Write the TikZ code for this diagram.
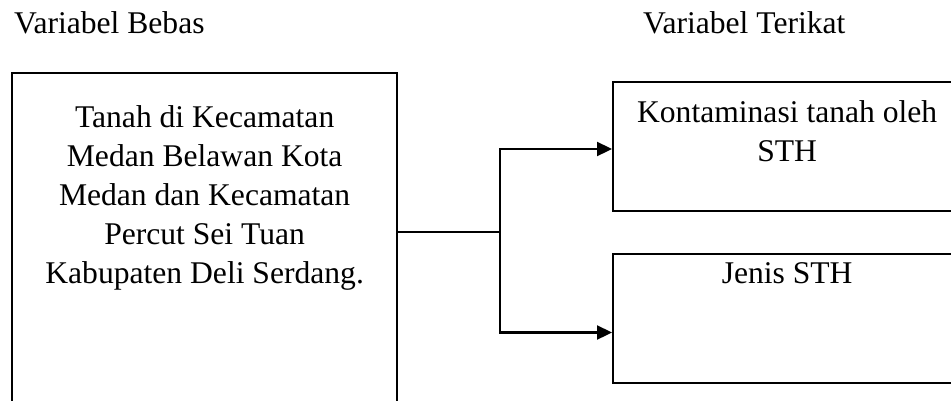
\documentclass[tikz,border=0pt]{standalone}
\usepackage{fontspec}
\setmainfont{Liberation Serif}
\usetikzlibrary{positioning,arrows.meta}

\begin{document}
\begin{tikzpicture}[x=1pt,y=-1pt,
  box/.style={draw, line width=2.3pt, rectangle, inner sep=0pt},
  txt/.style={align=center, inner sep=0pt, font=\fontsize{31.6pt}{39pt}\selectfont},
  arr/.style={-{Triangle[length=15pt,width=14pt]}, line width=2.3pt}]
\path[use as bounding box, clip] (0,0) rectangle (951,400);

\node[txt, anchor=base west] (bebaslabel) at (14,33) {Variabel Bebas};
\node[txt, anchor=base west] (terikatlabel) at (643,33) {Variabel Terikat};

\node[box, minimum width=385pt, minimum height=340pt, anchor=north west] (bebas) at (11,71.7) {};
\node[box, minimum width=348pt, minimum height=129.3pt, anchor=north west] (kontam) at (612,80.7) {};
\node[box, minimum width=348pt, minimum height=129.3pt, anchor=north west] (jenis) at (612,252.5) {};

\node[txt, below=33.3pt of bebas.north] (bebastext) {Tanah di Kecamatan\\Medan Belawan Kota\\Medan dan Kecamatan\\Percut Sei Tuan\\Kabupaten Deli Serdang.};
\node[txt, below=19.4pt of kontam.north] (kontamtext) {Kontaminasi tanah oleh\\STH};
\node[txt, below=9.5pt of jenis.north] (jenistext) {Jenis STH};

\coordinate (split) at (500,232);
\coordinate (ktop) at (500,149);
\coordinate (kbot) at (500,332.5);

\draw[line width=2.3pt] (bebas.east |- split) -- (split);
\draw[arr] (split) -- (ktop) -- (ktop -| kontam.west);
\draw[arr] (split) -- (kbot) -- (kbot -| jenis.west);
\end{tikzpicture}
\end{document}
